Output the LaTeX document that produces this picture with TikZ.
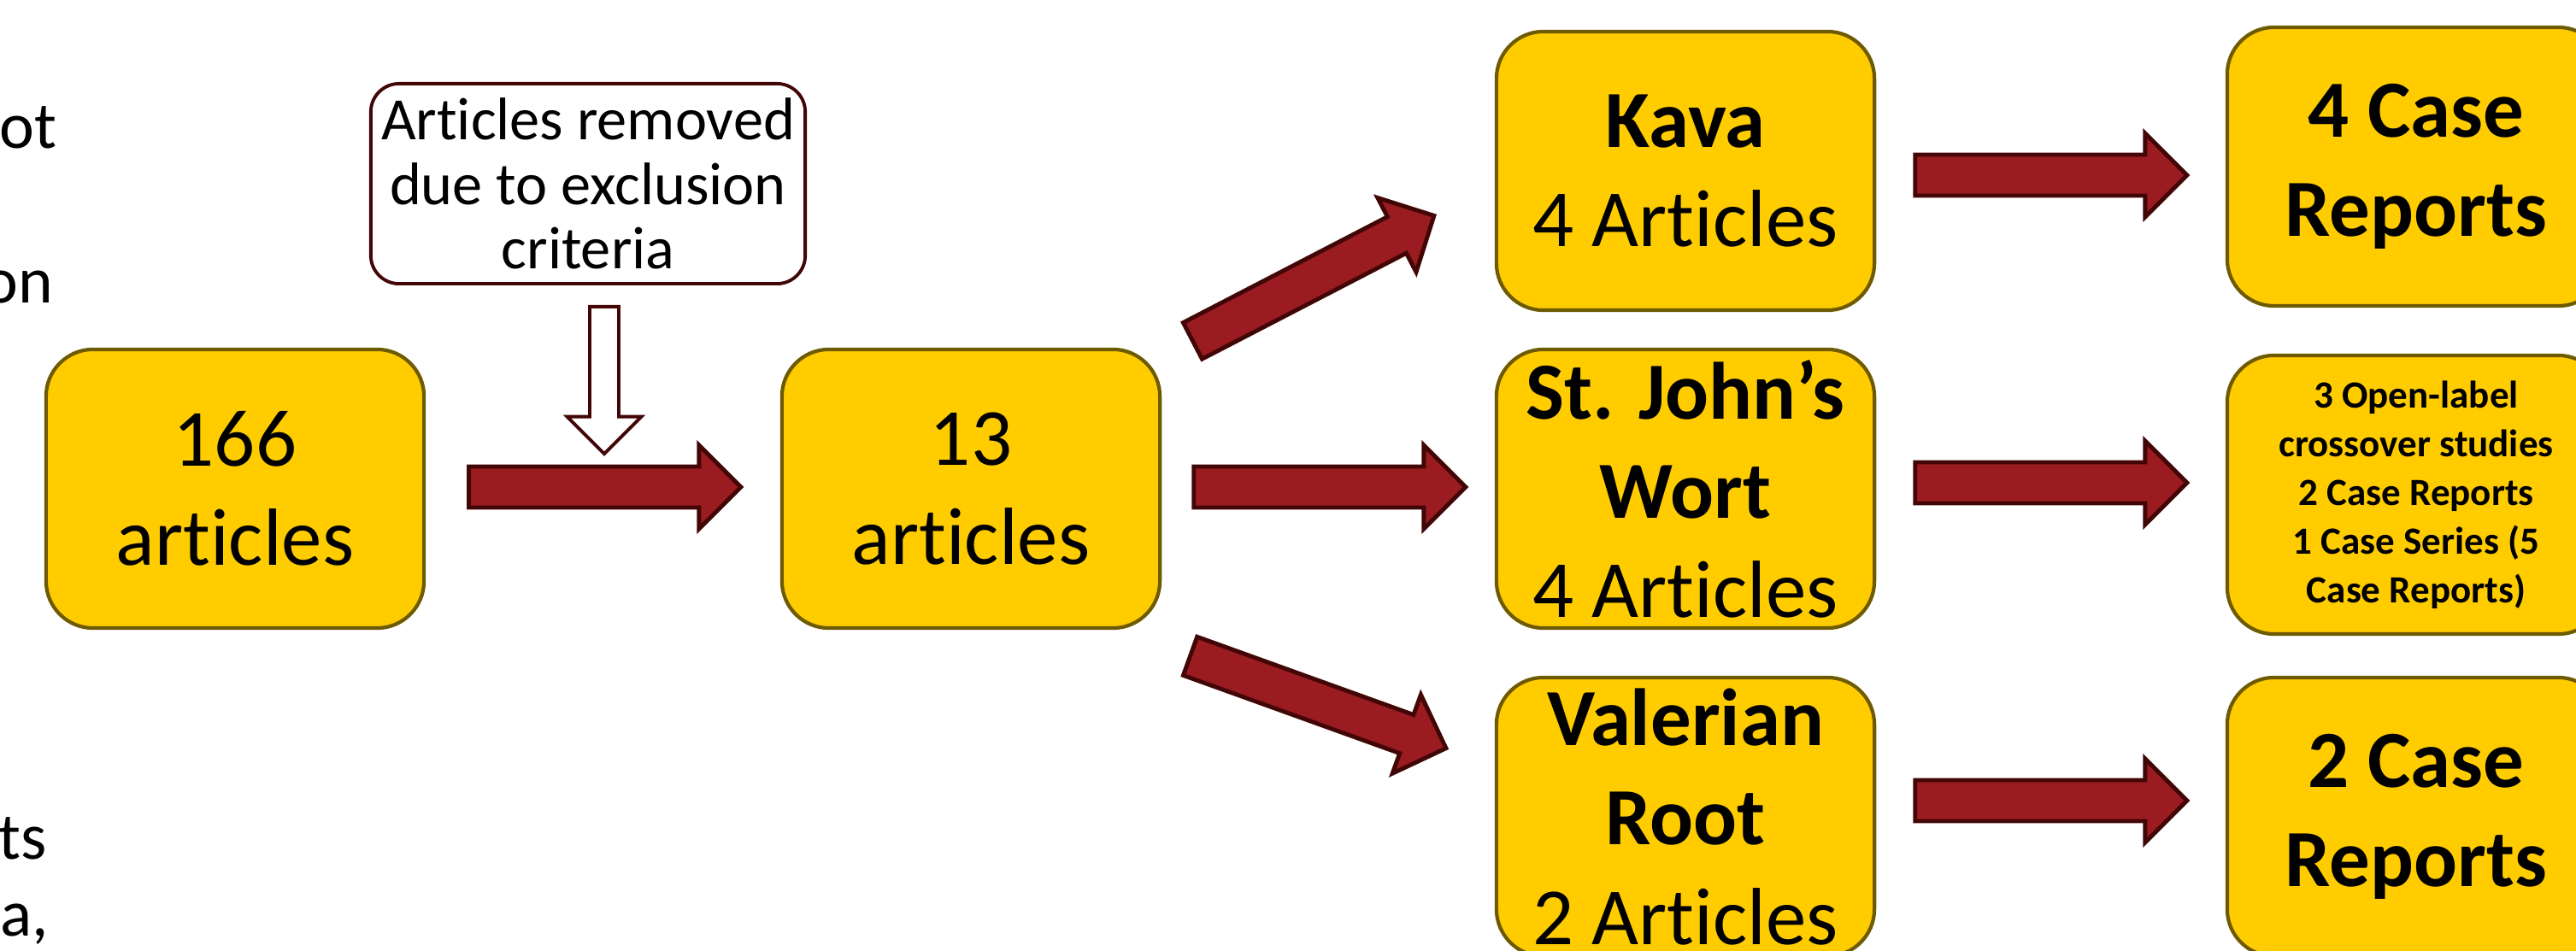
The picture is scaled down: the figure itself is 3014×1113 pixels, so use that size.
\documentclass[tikz,border=0pt]{standalone}
\usepackage{fontspec}
\setmainfont{Carlito}[Ligatures=NoCommon]
\usetikzlibrary{shapes.arrows}

\definecolor{boxfill}{HTML}{FFCC00}
\definecolor{boxline}{HTML}{6E5A00}
\definecolor{arrowfill}{HTML}{9A1C20}
\definecolor{arrowline}{HTML}{420606}

\begin{document}
\begin{tikzpicture}[x=0.01cm, y=-0.01cm,
  box/.style={draw=boxline, fill=boxfill, line width=1.2pt, rounded corners=0.55cm,
    minimum width=4.42cm, minimum height=3.26cm, inner sep=0pt, align=center,
    font=\fontsize{27}{33}\selectfont},
  smallbox/.style={box, font=\fontsize{12.8}{16.2}\selectfont\bfseries},
  note/.style={draw=arrowline, fill=white, line width=1.1pt, rounded corners=0.33cm,
    minimum width=5.08cm, minimum height=2.34cm, inner sep=0pt, align=center,
    font=\fontsize{20}{21.5}\selectfont},
  blockarrow/.style={single arrow, draw=arrowline, fill=arrowfill, line width=1.4pt,
    inner xsep=0pt, inner ysep=0.215cm, minimum width=0.93cm, minimum height=3.18cm,
    single arrow head extend=0.25cm, single arrow tip angle=90, sloped, allow upside down,
    pos=0, anchor=tail},
  hollowarrow/.style={blockarrow, fill=white, line width=1.1pt, inner ysep=0.15cm,
    minimum width=0.83cm, minimum height=1.72cm, single arrow head extend=0.265cm},
  cut/.style={anchor=base east, inner sep=0pt, font=\fontsize{22}{26}\selectfont}]

\useasboundingbox (0,0) rectangle (3014,1113);
\clip (0,0) rectangle (3014,1113);

\node[cut] (c1) at (67,174) {ot};
\node[cut] (c2) at (63,355) {on};
\node[cut] (c3) at (55,1005) {ts};
\node[cut] (c4) at (58,1095) {a,};

\node[box] (n166) at (275,572) {166\\articles};
\node[box] (n13) at (1136,572) {13\\articles};
\node[note] (excl) at (688,215) {Articles removed\\due to exclusion\\criteria};

\node[box] (kava) at (1972,200) {\textbf{Kava}\\4 Articles};
\node[box] (sjw) at (1972,572) {\textbf{St. John’s}\\\textbf{Wort}\\4 Articles};
\node[box] (val) at (1972,956) {\textbf{Valerian}\\\textbf{Root}\\2 Articles};

\node[box, font=\fontsize{27}{33}\selectfont\bfseries] (kavares) at (2827,195) {4 Case\\Reports};
\node[smallbox] (sjwres) at (2827,579) {3 Open-label\\crossover studies\\2 Case Reports\\1 Case Series (5\\Case Reports)};
\node[box, font=\fontsize{27}{33}\selectfont\bfseries] (valres) at (2827,956) {2 Case\\Reports};

\path ([shift={(19,23)}]excl.south) -- ++(0,175) node[hollowarrow] {};
\path ([shift={(48,-2)}]n166.east) -- ([shift={(0,-2)}]n13.west) node[blockarrow] {};

\path ([shift={(34,-172)}]n13.east) -- ([shift={(-72,53)}]kava.west) node[blockarrow] {};
\path ([shift={(35,-2)}]n13.east) -- ([shift={(0,-2)}]sjw.west) node[blockarrow] {};
\path ([shift={(31,195)}]n13.east) -- ([shift={(-56,-80)}]val.west) node[blockarrow] {};

\path ([shift={(43,5)}]kava.east) -- ([shift={(0,10)}]kavares.west) node[blockarrow] {};
\path ([shift={(43,-7)}]sjw.east) -- ([shift={(0,-14)}]sjwres.west) node[blockarrow] {};
\path ([shift={(43,-19)}]val.east) -- ([shift={(0,-19)}]valres.west) node[blockarrow] {};
\end{tikzpicture}
\end{document}
